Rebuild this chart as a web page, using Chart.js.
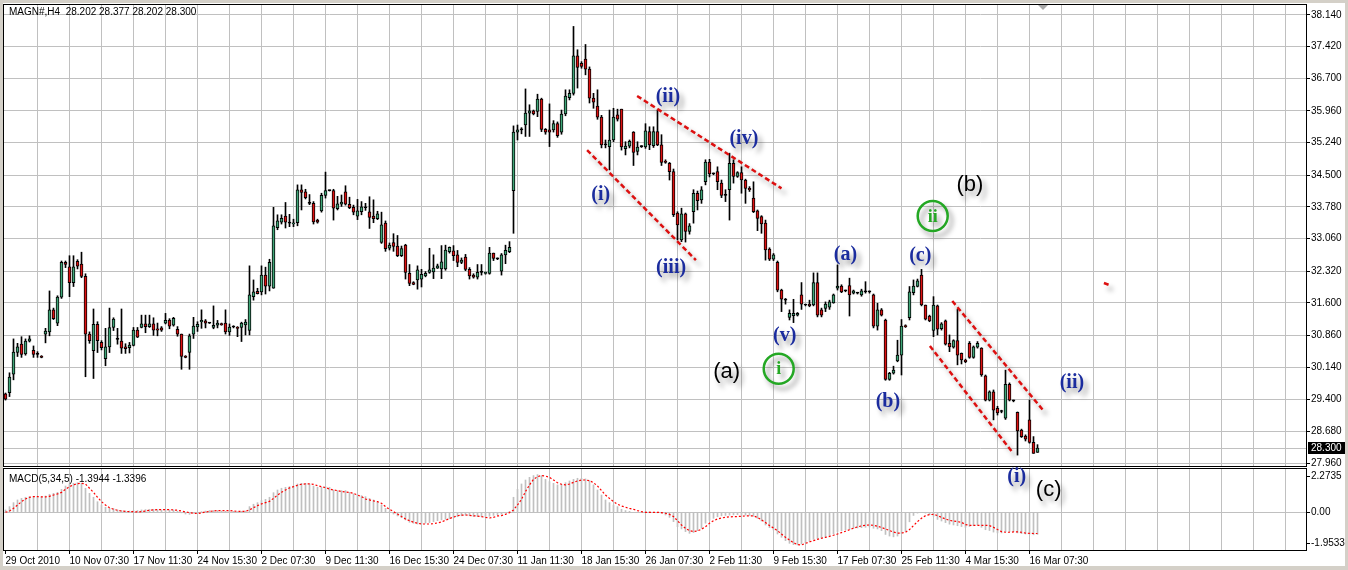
<!DOCTYPE html>
<html>
<head>
<meta charset="utf-8">
<script src="https://cdn.jsdelivr.net/npm/chart.js@4.4.1/dist/chart.umd.min.js"></script>
<style>
  html, body { margin: 0; padding: 0; }
  body { width: 1348px; height: 570px; background: #d4d0c8; position: relative; overflow: hidden; font-family: "Liberation Sans", Arial, sans-serif; }
  #frame { position: absolute; left: 3px; top: 3px; width: 1342px; height: 563px; background: #fff; }
  canvas { position: absolute; left: 0; top: 0; }
  .caption { position: absolute; font-size: 10px; color: #000; white-space: pre; }
  #shift { position: absolute; left: 1038px; top: 5px; width: 0; height: 0; border-left: 5px solid transparent; border-right: 5px solid transparent; border-top: 5px solid #a8a8a8; }
</style>
</head>
<body>
<div id="frame"></div>
<canvas id="macdChart" width="1348" height="570"></canvas>
<canvas id="priceChart" width="1348" height="570"></canvas>
<div class="caption" style="left:9px;top:6px">MAGN#,H4  28.202 28.377 28.202 28.300</div>
<div class="caption" style="left:9px;top:473px">MACD(5,34,5) -1.3944 -1.3396</div>
<div id="shift"></div>

<script>
// H4 bars, oldest first
const opens = [
  29.53,29.56,29.98,30.47,30.66,30.44,30.73,30.52,30.43,30.39,
  30.89,30.94,31.44,31.14,31.73,32.52,32.42,32.06,32.54,32.48,
  32.20,30.89,30.51,31.11,30.70,30.33,30.60,31.04,30.77,30.73,
  30.60,30.58,30.63,30.98,31.04,31.12,31.06,31.12,31.01,31.03,
  31.14,31.21,31.09,31.00,30.89,30.39,30.47,30.89,31.05,31.17,
  31.19,31.14,31.04,31.09,31.13,31.14,30.94,31.05,31.04,31.04,
  31.10,30.97,31.74,31.86,31.85,32.23,31.98,31.93,33.31,33.43,
  33.57,33.41,33.39,33.42,34.17,34.12,33.86,33.86,33.48,33.69,
  34.04,34.15,34.15,33.74,33.84,34.12,33.84,33.77,33.57,33.67,
  33.76,33.67,33.57,33.51,32.97,33.41,32.84,32.97,32.89,32.67,
  32.91,32.27,32.06,32.12,32.14,32.21,32.29,32.30,32.39,32.37,
  32.37,32.76,32.78,32.69,32.52,32.64,32.36,32.23,32.18,32.29,
  32.27,32.27,32.73,32.60,32.32,32.69,32.76,34.15,35.48,35.53,
  35.64,35.91,35.96,35.95,36.23,35.54,35.53,35.53,35.67,35.48,
  35.89,36.26,36.36,37.21,37.04,37.14,36.91,36.25,36.07,35.82,
  35.19,35.15,35.30,35.87,36.00,35.10,35.16,35.48,35.04,35.15,
  35.14,35.49,35.17,35.49,35.19,34.82,34.77,34.58,33.64,33.03,
  33.62,33.22,33.67,34.09,33.94,34.35,34.80,34.53,34.58,34.32,
  34.04,34.17,34.77,34.47,34.56,34.39,34.20,33.98,33.69,33.56,
  33.41,32.82,32.59,32.52,31.89,31.66,31.27,31.31,31.32,31.78,
  31.55,31.57,31.55,32.06,31.44,31.47,31.50,31.60,31.93,31.98,
  31.87,31.99,31.82,31.82,31.78,31.85,31.85,31.78,31.07,31.44,
  31.21,29.86,30.00,30.28,30.41,31.08,31.26,31.83,31.97,32.23,
  31.55,31.30,30.97,31.53,31.01,31.19,30.68,30.59,30.74,30.45,
  30.30,30.68,30.36,30.59,30.57,29.94,29.39,29.58,29.20,29.13,
  28.98,29.75,29.37,29.11,28.71,28.57,28.94,28.43,28.202
];
const highs = [
  29.55,30.01,30.78,30.68,30.83,30.78,30.85,30.62,30.49,30.40,
  31.02,31.87,31.48,31.76,32.55,32.55,32.67,32.67,32.58,32.75,
  32.26,30.94,31.46,31.17,30.74,31.02,31.48,31.26,31.02,31.46,
  30.67,30.70,31.04,31.04,31.32,31.32,31.32,31.26,31.14,31.06,
  31.36,31.24,31.27,31.06,30.89,30.40,30.89,31.27,31.17,31.44,
  31.22,31.15,31.53,31.20,31.14,31.44,31.12,31.08,31.06,31.16,
  31.22,32.44,32.12,31.93,32.44,32.41,32.59,33.77,33.60,33.60,
  33.88,33.61,33.50,34.28,34.28,34.18,34.06,33.90,33.50,34.09,
  34.57,34.16,34.18,34.02,34.05,34.26,34.00,33.82,33.95,33.90,
  33.86,34.01,33.94,33.68,33.66,33.46,32.96,33.17,33.13,32.89,
  32.93,32.47,32.08,32.44,32.36,32.31,32.84,32.69,32.48,32.90,
  32.91,32.87,32.90,32.79,32.62,32.70,32.40,32.26,32.47,32.47,
  32.30,32.86,32.73,32.62,32.72,32.91,32.99,35.62,35.64,35.58,
  36.46,36.10,35.98,36.34,36.25,35.56,36.12,35.74,35.71,35.98,
  36.44,36.44,37.88,37.35,37.08,37.47,36.96,36.36,36.44,35.86,
  35.30,35.98,36.02,36.00,36.00,35.26,35.30,35.49,35.26,35.17,
  35.67,35.60,35.60,35.98,35.42,34.85,34.79,34.64,33.67,33.75,
  33.64,33.40,34.17,34.14,34.24,34.85,34.86,34.55,34.69,34.39,
  34.17,35.00,34.85,34.58,34.69,34.41,34.24,34.35,33.71,33.58,
  33.48,32.85,32.72,32.55,31.91,31.70,31.44,31.68,31.38,32.06,
  31.57,31.66,32.28,32.28,31.48,31.62,31.66,31.80,32.46,32.01,
  31.89,32.16,31.89,31.84,31.91,32.08,31.87,31.80,31.59,31.47,
  31.23,30.02,30.16,30.75,31.22,31.10,31.97,32.12,32.14,32.36,
  31.55,31.32,31.74,31.55,31.15,31.21,30.87,30.76,31.45,30.46,
  30.32,30.72,30.62,30.72,30.58,29.96,29.60,29.62,29.25,29.16,
  30.07,29.78,29.39,29.12,28.73,28.60,29.39,28.56,28.377
];
const lows = [
  29.39,29.47,29.85,30.38,30.36,30.41,30.71,30.36,30.36,30.35,
  30.69,30.85,31.22,31.08,31.70,32.40,31.74,31.97,32.37,32.17,
  29.92,30.68,29.88,30.47,30.53,30.17,30.47,30.97,30.66,30.45,
  30.45,30.46,30.62,30.81,31.03,30.92,31.04,30.86,30.85,30.95,
  31.12,31.01,31.07,30.84,30.09,30.35,30.09,30.79,30.95,31.02,
  31.03,31.13,31.01,31.03,31.09,30.89,30.86,31.03,30.83,30.72,
  30.87,30.87,31.66,31.80,31.78,31.80,31.87,31.93,33.26,33.39,
  33.30,33.33,33.33,33.35,33.71,33.96,33.83,33.39,33.41,33.66,
  33.98,34.14,33.48,33.71,33.79,33.82,33.74,33.60,33.49,33.60,
  33.70,33.29,33.42,33.49,32.95,32.77,32.80,32.77,32.65,32.65,
  32.14,31.99,32.01,31.91,31.96,32.19,32.27,32.15,32.38,32.15,
  32.34,32.73,32.56,32.42,32.49,32.33,32.14,32.16,32.14,32.23,
  32.25,32.25,32.56,32.58,32.23,32.49,32.74,33.18,35.30,35.44,
  35.38,35.38,35.87,35.83,35.49,35.43,35.15,35.48,35.36,35.43,
  35.85,36.21,36.32,36.48,36.93,36.78,36.14,36.02,35.77,35.12,
  35.12,34.62,35.26,35.73,35.07,34.96,35.12,34.72,34.96,35.13,
  35.11,35.08,35.13,35.17,34.72,34.77,34.39,33.56,33.03,32.99,
  32.98,33.16,33.41,33.71,33.86,34.28,34.46,34.51,34.17,33.99,
  33.90,33.48,34.32,34.45,34.09,33.86,34.13,33.65,33.24,33.18,
  32.57,32.56,32.56,31.85,31.40,31.57,31.21,31.15,31.30,31.45,
  31.53,31.51,31.53,31.28,31.28,31.40,31.45,31.59,31.89,31.83,
  31.85,31.30,31.80,31.80,31.75,31.82,31.82,31.03,30.98,31.30,
  29.84,29.84,29.98,30.26,29.96,31.04,31.21,31.78,31.96,31.53,
  31.21,31.17,30.83,30.87,30.98,30.64,30.49,30.57,30.19,30.21,
  30.24,30.34,30.34,30.57,29.93,29.37,29.37,28.94,29.05,29.10,
  28.95,29.37,29.35,28.14,28.54,28.46,28.41,28.18,28.202
];
const closes = [
  29.41,29.91,30.48,30.60,30.43,30.73,30.78,30.43,30.43,30.36,
  30.96,31.44,31.24,31.73,32.52,32.47,32.06,32.42,32.43,32.20,
  30.89,30.74,31.11,30.74,30.58,30.60,31.04,31.23,30.77,30.57,
  30.56,30.64,30.98,30.82,31.12,31.06,31.12,30.98,30.98,30.98,
  31.20,31.07,31.25,30.89,30.38,30.36,30.85,31.07,31.11,31.20,
  31.14,31.14,31.09,31.14,31.10,30.94,31.05,31.05,31.02,31.14,
  31.16,31.78,31.85,31.81,32.23,31.98,32.52,33.35,33.46,33.52,
  33.43,33.41,33.42,34.17,34.11,33.99,33.86,33.44,33.43,34.04,
  34.15,34.15,33.75,33.85,33.89,33.84,33.76,33.66,33.69,33.78,
  33.76,33.54,33.51,33.62,33.37,32.83,32.91,32.88,32.67,32.83,
  32.29,32.04,32.02,32.35,32.25,32.27,32.35,32.39,32.44,32.53,
  32.80,32.86,32.67,32.52,32.57,32.36,32.21,32.18,32.29,32.29,
  32.28,32.73,32.61,32.60,32.69,32.79,32.86,35.48,35.53,35.53,
  35.91,35.96,35.89,36.23,35.54,35.48,35.48,35.67,35.40,35.89,
  36.30,36.36,37.21,36.95,36.97,36.91,36.25,36.16,35.82,35.19,
  35.19,35.30,35.82,35.77,35.14,35.16,35.27,35.02,35.14,35.15,
  35.51,35.19,35.49,35.19,34.79,34.79,34.58,33.60,33.37,33.62,
  33.22,33.35,34.09,33.92,34.17,34.80,34.53,34.53,34.35,34.04,
  34.04,34.77,34.47,34.56,34.39,34.20,34.17,33.67,33.52,33.39,
  32.80,32.59,32.69,31.89,31.68,31.66,31.36,31.36,31.36,31.57,
  31.55,31.53,32.06,31.32,31.32,31.57,31.62,31.78,31.98,31.85,
  31.87,31.78,31.87,31.82,31.87,31.85,31.85,31.07,31.44,31.32,
  29.86,30.00,30.07,30.41,31.07,31.06,31.85,31.98,32.10,31.55,
  31.23,31.19,31.55,31.00,31.12,30.66,30.60,30.74,30.41,30.30,
  30.26,30.36,30.60,30.68,29.96,29.39,29.58,29.16,29.10,29.13,
  29.75,29.39,29.37,28.69,28.56,28.50,28.43,28.18,28.300
];

// MACD(5,34,5): main line (histogram) and signal
const macdMain = [
  0.15,0.36,0.61,0.78,0.88,0.95,0.99,0.99,0.99,0.99,
  1.03,1.14,1.20,1.26,1.45,1.66,1.79,1.83,1.87,1.83,
  1.52,1.20,0.95,0.67,0.46,0.32,0.25,0.23,0.15,0.11,
  0.08,0.08,0.11,0.11,0.15,0.17,0.19,0.19,0.17,0.15,
  0.15,0.15,0.15,0.08,-0.02,-0.11,-0.13,-0.06,0.00,0.04,
  0.08,0.11,0.11,0.11,0.08,0.06,0.06,0.06,0.04,0.06,
  0.08,0.36,0.51,0.61,0.74,0.82,0.95,1.24,1.41,1.52,
  1.58,1.62,1.66,1.79,1.83,1.83,1.79,1.66,1.58,1.58,
  1.62,1.58,1.41,1.37,1.37,1.37,1.26,1.16,1.09,1.05,
  0.99,0.88,0.78,0.67,0.46,0.25,0.04,-0.11,-0.23,-0.34,
  -0.48,-0.63,-0.69,-0.74,-0.74,-0.69,-0.65,-0.59,-0.53,-0.48,
  -0.44,-0.40,-0.35,-0.28,-0.22,-0.18,-0.22,-0.26,-0.27,-0.28,
  -0.30,-0.25,-0.20,-0.15,-0.12,-0.05,0.05,0.95,1.45,1.79,
  2.04,2.21,2.32,2.38,2.32,2.08,1.94,1.83,1.73,1.77,
  1.87,1.98,2.08,2.15,2.15,2.11,2.00,1.73,1.41,1.09,
  0.78,0.61,0.46,0.36,0.19,0.11,0.06,0.00,0.00,0.02,
  0.04,0.02,0.00,-0.02,-0.06,-0.17,-0.32,-0.59,-0.91,-1.05,
  -1.22,-1.33,-1.28,-1.16,-1.01,-0.69,-0.50,-0.38,-0.28,-0.22,
  -0.20,-0.18,-0.16,-0.15,-0.16,-0.18,-0.20,-0.25,-0.38,-0.55,
  -0.80,-0.97,-1.12,-1.37,-1.58,-1.79,-1.96,-2.04,-2.06,-2.00,
  -1.92,-1.83,-1.71,-1.66,-1.64,-1.58,-1.49,-1.37,-1.22,-1.16,
  -1.12,-1.07,-1.01,-0.99,-0.97,-0.95,-0.93,-1.01,-1.05,-1.16,
  -1.40,-1.50,-1.55,-1.50,-1.35,-1.20,-0.60,-0.20,-0.05,0.00,
  -0.05,-0.15,-0.25,-0.45,-0.55,-0.65,-0.75,-0.80,-0.85,-0.90,
  -0.95,-0.90,-0.85,-0.80,-0.95,-1.10,-1.15,-1.25,-1.30,-1.30,
  -1.22,-1.22,-1.22,-1.30,-1.35,-1.37,-1.38,-1.42,-1.3944
];
const macdSignal = [
  0.00,0.08,0.25,0.46,0.67,0.84,0.95,0.99,0.99,0.97,
  0.97,1.01,1.09,1.16,1.26,1.45,1.62,1.73,1.81,1.83,
  1.79,1.52,1.26,0.95,0.67,0.46,0.29,0.19,0.13,0.08,
  0.06,0.04,0.04,0.02,0.04,0.08,0.13,0.15,0.17,0.17,
  0.17,0.17,0.15,0.13,0.08,0.02,-0.02,-0.06,-0.08,-0.04,
  0.02,0.06,0.08,0.11,0.11,0.11,0.11,0.08,0.06,0.06,
  0.06,0.15,0.29,0.42,0.53,0.61,0.69,0.88,1.09,1.26,
  1.41,1.54,1.62,1.71,1.77,1.79,1.79,1.77,1.68,1.62,
  1.56,1.47,1.41,1.37,1.31,1.28,1.26,1.20,1.09,0.99,
  0.84,0.78,0.72,0.67,0.57,0.36,0.19,0.04,-0.11,-0.27,
  -0.42,-0.53,-0.63,-0.69,-0.74,-0.74,-0.74,-0.72,-0.67,-0.61,
  -0.50,-0.40,-0.30,-0.22,-0.18,-0.17,-0.19,-0.22,-0.24,-0.27,
  -0.32,-0.36,-0.32,-0.23,-0.21,-0.13,-0.02,0.15,0.46,0.82,
  1.31,1.73,2.08,2.25,2.32,2.29,2.21,2.04,1.87,1.77,
  1.73,1.79,1.89,1.98,2.04,2.04,2.00,1.87,1.66,1.37,
  1.09,0.88,0.67,0.51,0.40,0.32,0.25,0.19,0.11,0.04,
  0.00,0.00,0.00,0.00,-0.02,-0.06,-0.13,-0.27,-0.53,-0.80,
  -1.01,-1.16,-1.22,-1.18,-1.07,-0.91,-0.69,-0.53,-0.42,-0.36,
  -0.32,-0.29,-0.27,-0.27,-0.25,-0.23,-0.23,-0.23,-0.32,-0.48,
  -0.65,-0.84,-0.99,-1.16,-1.37,-1.58,-1.75,-1.92,-2.04,-2.06,
  -1.96,-1.87,-1.79,-1.71,-1.64,-1.58,-1.52,-1.45,-1.37,-1.28,
  -1.20,-1.10,-1.00,-0.92,-0.86,-0.82,-0.80,-0.82,-0.88,-0.96,
  -1.05,-1.15,-1.25,-1.31,-1.31,-1.26,-1.09,-0.84,-0.59,-0.38,
  -0.21,-0.15,-0.13,-0.21,-0.32,-0.42,-0.51,-0.55,-0.59,-0.63,
  -0.78,-0.82,-0.82,-0.82,-0.82,-0.82,-0.84,-0.95,-1.09,-1.22,
  -1.26,-1.26,-1.24,-1.24,-1.26,-1.31,-1.33,-1.34,-1.3396
];

// axis labels
const dateLabels = ["29 Oct 2010", "10 Nov 07:30", "17 Nov 11:30", "24 Nov 15:30", "2 Dec 07:30",
  "9 Dec 11:30", "16 Dec 15:30", "24 Dec 07:30", "11 Jan 11:30", "18 Jan 15:30", "26 Jan 07:30",
  "2 Feb 11:30", "9 Feb 15:30", "17 Feb 07:30", "25 Feb 11:30", "4 Mar 15:30", "16 Mar 07:30"];
const priceTicks = ["27.960", "28.680", "29.400", "30.140", "30.860", "31.600", "32.320", "33.060",
  "33.780", "34.500", "35.240", "35.960", "36.700", "37.420", "38.140"];
const macdTicks = ["-1.9533", "0.00", "2.2735"];

// wave markup: [text, bar, price]
const blueWaves = [
  ["(ii)", 165.6, 36.28], ["(iv)", 184.6, 35.33], ["(i)", 148.8, 34.05], ["(iii)", 166.4, 32.40],
  ["(v)", 194.8, 30.85], ["(a)", 210.0, 32.68], ["(c)", 228.7, 32.66], ["(b)", 220.6, 29.36],
  ["(ii)", 266.6, 29.78], ["(i)", 252.8, 27.64]
];
const blackWaves = [["(a)", 180.3, 30.03], ["(b)", 241.1, 34.28], ["(c)", 260.8, 27.35]];
const greenWaves = [["i", 193.3, 30.10], ["ii", 231.8, 33.57]];
const channelLines = [
  [145.4, 35.07, 172.6, 32.57], [157.9, 36.30, 194.0, 34.20],
  [236.7, 31.64, 259.4, 29.16], [231.1, 30.62, 251.5, 28.23],
  [274.6, 32.05, 276.1, 32.00]
];

const BULL = "#3fa577";
const BEAR = "#dd1111";
const GRID = "#c0c0c0";
const X_MIN = -0.375, X_MAX = 325.125;
const barIdx = opens.map((_, i) => i);
const gridBars = [];
for (let b = 0; b <= 320; b += 8) gridBars.push(b);

Chart.defaults.font.family = '"Liberation Sans", Arial, sans-serif';
Chart.defaults.font.size = 10;
Chart.defaults.color = "#000";

const paneBox = {
  id: "paneBox",
  afterDraw(chart) {
    const { ctx, chartArea: a } = chart;
    ctx.save();
    ctx.strokeStyle = "#000";
    ctx.lineWidth = 1;
    ctx.strokeRect(a.left - 0.5, a.top - 0.5, a.right - a.left + 1, a.bottom - a.top + 1);
    ctx.restore();
  }
};

const bidLine = {
  id: "bidLine",
  beforeDatasetsDraw(chart) {
    const { ctx, chartArea: a } = chart;
    const y = Math.round(chart.scales.y.getPixelForValue(closes[closes.length - 1])) + 0.5;
    ctx.save();
    ctx.strokeStyle = GRID;
    ctx.beginPath();
    ctx.moveTo(a.left, y);
    ctx.lineTo(a.right, y);
    ctx.stroke();
    ctx.restore();
  },
  afterDraw(chart) {
    const { ctx, chartArea: a } = chart;
    const last = closes[closes.length - 1];
    const y = Math.round(chart.scales.y.getPixelForValue(last));
    ctx.save();
    ctx.fillStyle = "#000";
    ctx.fillRect(a.right + 2, y - 6, 37, 12);
    ctx.fillStyle = "#fff";
    ctx.font = '10px "Liberation Sans", Arial, sans-serif';
    ctx.textBaseline = "middle";
    ctx.fillText(last.toFixed(3), a.right + 5, y + 0.5);
    ctx.restore();
  }
};

function withShadow(ctx) {
  ctx.shadowColor = "rgba(0,0,0,0.38)";
  ctx.shadowBlur = 5;
  ctx.shadowOffsetX = 4;
  ctx.shadowOffsetY = 5;
}

const waveMarks = {
  id: "waveMarks",
  afterDraw(chart) {
    const { ctx } = chart;
    const xs = chart.scales.x, ys = chart.scales.y;
    ctx.save();
    withShadow(ctx);
    ctx.strokeStyle = "#dd1010";
    ctx.lineWidth = 2.5;
    ctx.setLineDash([5, 3]);
    channelLines.forEach(([b1, p1, b2, p2]) => {
      ctx.beginPath();
      ctx.moveTo(xs.getPixelForValue(b1), ys.getPixelForValue(p1));
      ctx.lineTo(xs.getPixelForValue(b2), ys.getPixelForValue(p2));
      ctx.stroke();
    });
    ctx.setLineDash([]);
    ctx.textAlign = "center";
    ctx.textBaseline = "middle";

    ctx.font = 'bold 20px "Liberation Serif", "Times New Roman", serif';
    ctx.fillStyle = "#1b2c9e";
    blueWaves.forEach(([t, b, p]) => ctx.fillText(t, xs.getPixelForValue(b), ys.getPixelForValue(p)));

    ctx.font = '22px "Liberation Sans", Arial, sans-serif';
    ctx.fillStyle = "#000";
    blackWaves.forEach(([t, b, p]) => ctx.fillText(t, xs.getPixelForValue(b), ys.getPixelForValue(p)));

    greenWaves.forEach(([t, b, p]) => {
      const x = xs.getPixelForValue(b), y = ys.getPixelForValue(p);
      ctx.strokeStyle = "#24a824";
      ctx.lineWidth = 2.5;
      ctx.beginPath();
      ctx.arc(x, y, 15, 0, Math.PI * 2);
      ctx.stroke();
      ctx.font = 'bold 18px "Liberation Serif", "Times New Roman", serif';
      ctx.fillStyle = "#24a824";
      ctx.fillText(t, x, y + 1);
    });
    ctx.restore();
  }
};

new Chart(document.getElementById("priceChart"), {
  type: "bar",
  data: {
    datasets: [
      {
        label: "wick",
        data: barIdx.map(i => ({ x: i, y: [lows[i], highs[i]] })),
        backgroundColor: "#000",
        barThickness: 1,
        grouped: false,
        order: 2
      },
      {
        label: "body",
        data: barIdx.map(i => ({ x: i, y: [opens[i], closes[i]] })),
        backgroundColor: barIdx.map(i => closes[i] > opens[i] ? BULL : closes[i] < opens[i] ? BEAR : "#000"),
        borderColor: "#000",
        borderWidth: 1,
        borderSkipped: false,
        barThickness: 3,
        minBarLength: 1,
        grouped: false,
        order: 1
      }
    ]
  },
  options: {
    responsive: false,
    animation: false,
    events: [],
    layout: { padding: { left: 4, top: 5, right: 0, bottom: 104 }, autoPadding: false },
    plugins: { legend: { display: false }, tooltip: { enabled: false } },
    scales: {
      x: {
        type: "linear",
        min: X_MIN,
        max: X_MAX,
        offset: false,
        afterBuildTicks: s => { s.ticks = gridBars.map(v => ({ value: v })); },
        afterFit: s => { s.height = 0; },
        ticks: { display: false },
        grid: {
          offset: false,
          drawTicks: false,
          color: c => (c.tick && c.tick.value === 0 ? "rgba(0,0,0,0)" : GRID),
          borderDash: [3, 3]
        },
        border: { display: false }
      },
      y: {
        position: "right",
        min: 27.892,
        max: 38.367,
        afterBuildTicks: s => { s.ticks = priceTicks.map(t => ({ value: parseFloat(t) })); },
        afterFit: s => { s.width = 42; s.paddingTop = 0; s.paddingBottom = 0; },
        ticks: { callback: (v, i) => priceTicks[i], padding: 1, color: "#000" },
        grid: { color: GRID, borderDash: [3, 3], tickLength: 4, tickColor: "#000", tickBorderDash: [] },
        border: { display: false }
      }
    }
  },
  plugins: [paneBox, bidLine, waveMarks]
});

new Chart(document.getElementById("macdChart"), {
  type: "bar",
  data: {
    datasets: [
      {
        type: "line",
        label: "signal",
        data: barIdx.map(i => ({ x: i, y: macdSignal[i] })),
        borderColor: "#ff0000",
        borderWidth: 1.2,
        borderDash: [2, 2],
        pointRadius: 0,
        tension: 0,
        order: 1
      },
      {
        label: "MACD",
        data: barIdx.map(i => ({ x: i, y: macdMain[i] })),
        backgroundColor: "#c0c0c0",
        barThickness: 1,
        grouped: false,
        order: 2
      }
    ]
  },
  options: {
    responsive: false,
    animation: false,
    events: [],
    layout: { padding: { left: 4, top: 469, right: 0, bottom: 0 }, autoPadding: false },
    plugins: { legend: { display: false }, tooltip: { enabled: false } },
    scales: {
      x: {
        type: "linear",
        min: X_MIN,
        max: X_MAX,
        offset: false,
        afterBuildTicks: s => { s.ticks = gridBars.map(v => ({ value: v })); },
        afterFit: s => { s.height = 20; },
        ticks: {
          autoSkip: false,
          maxRotation: 0,
          align: "start",
          padding: 1,
          color: "#000",
          callback: v => (v % 16 === 0 && dateLabels[v / 16]) ? dateLabels[v / 16] : ""
        },
        grid: {
          offset: false,
          color: c => (c.tick && c.tick.value === 0 ? "rgba(0,0,0,0)" : GRID),
          borderDash: [3, 3],
          tickLength: 4,
          tickBorderDash: [],
          tickColor: c => (c.tick && c.tick.value % 16 === 0 && dateLabels[c.tick.value / 16] ? "#000" : "rgba(0,0,0,0)")
        },
        border: { display: false }
      },
      y: {
        position: "right",
        min: -2.381,
        max: 2.735,
        afterBuildTicks: s => { s.ticks = macdTicks.map(t => ({ value: parseFloat(t) })); },
        afterFit: s => { s.width = 42; s.paddingTop = 0; s.paddingBottom = 0; },
        ticks: { callback: (v, i) => macdTicks[i], padding: 1, color: "#000" },
        grid: {
          color: c => (c.tick && c.tick.value === 0 ? GRID : "rgba(0,0,0,0)"),
          borderDash: [3, 3],
          tickLength: 4,
          tickColor: "#000",
          tickBorderDash: []
        },
        border: { display: false }
      }
    }
  },
  plugins: [paneBox]
});
</script>
</body>
</html>
